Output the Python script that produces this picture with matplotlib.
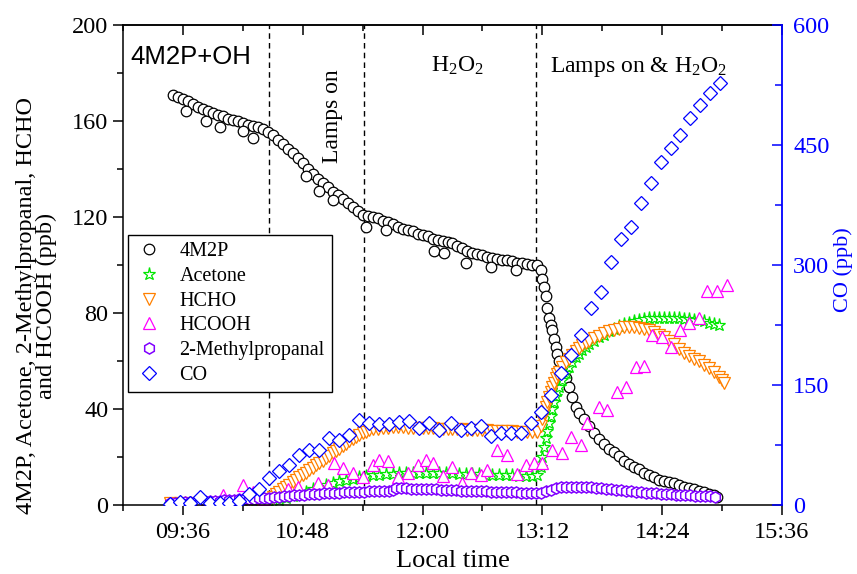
import matplotlib
matplotlib.use("Agg")
import matplotlib.pyplot as plt
from matplotlib.ticker import MultipleLocator

plt.rcParams['font.family'] = ['Liberation Serif', 'DejaVu Serif']
plt.rcParams['mathtext.default'] = 'regular'
plt.rcParams['axes.linewidth'] = 1.1

# ---------------- data (minutes after 09:00, ppb) ----------------
START = "09:00"
END = "15:36"
xtick_labels = ["09:36", "10:48", "12:00", "13:12", "14:24", "15:36"]
event_times = ["10:28", "11:25", "13:08"]

m2p_t = [30, 33, 36, 39, 42, 45, 48, 51, 54, 57, 60, 63, 66, 69, 72, 75, 78, 81, 84, 87,
         90, 93, 96, 99, 102, 105, 108, 111, 114, 117, 120, 123, 126, 129, 132, 135, 138, 141, 144, 147,
         150, 153, 156, 159, 162, 165, 168, 171, 174, 177, 180, 183, 186, 189, 192, 195, 198, 201, 204, 207,
         210, 213, 216, 219, 222, 225, 228, 231, 234, 237, 240, 243, 246, 249, 251, 252, 253, 254, 255, 256,
         257, 258, 259, 260, 261, 262, 264, 266, 268, 270, 272, 274, 277, 280, 283, 286, 289, 292, 295, 298,
         301, 304, 307, 310, 313, 316, 319, 322, 325, 328, 331, 334, 337, 340, 343, 346, 349, 352, 355, 357,
         38, 50, 58, 72, 78, 110, 118, 126, 146, 158, 187, 193, 206, 221, 236]
m2p_v = [171, 170, 169, 168.5, 167, 166, 165, 164, 163.5, 162.5, 162, 161, 160.5, 160, 159, 158.5, 158, 157.5, 156.5, 155.5,
         154, 152, 150.5, 148.5, 146.5, 144.5, 142.5, 140, 138, 136, 134, 132.5, 130.5, 129, 127.5, 126, 124, 122.5, 121, 120.5,
         120, 119.5, 118.5, 118, 117, 116, 115, 114.5, 114, 113, 112.5, 112, 111, 110.5, 110, 109.5, 109, 108, 107, 106,
         105, 104.5, 104, 103.5, 103, 102.5, 102, 102, 101.5, 101, 101, 100.5, 100, 100, 98, 94, 91, 87, 82, 78,
         75, 73, 69, 66, 63, 60, 56, 53, 49, 45, 41, 38.5, 36, 33, 30, 27.5, 25.5, 23.5, 22, 20.5,
         18.5, 17, 16, 15, 13.5, 12.5, 11.5, 10.5, 10, 9.5, 9, 8.2, 7.6, 7, 6.5, 6, 5.3, 4.7, 4, 3.5,
         164, 160, 157.5, 156, 153, 137, 131, 127, 116, 114.5, 106, 105, 101, 99, 98]

acet_t = [28, 34, 40, 46, 52, 58, 64, 70, 76, 82, 88, 94, 98, 102, 106, 110, 114, 118, 122, 126,
          130, 134, 138, 142, 146, 150, 154, 158, 162, 166, 170, 174, 178, 182, 186, 190, 194, 198, 202, 206,
          210, 214, 218, 222, 226, 230, 234, 238, 242, 246, 249, 251, 252, 253, 254, 255, 256, 257, 258, 259,
          260, 261, 262, 264, 266, 268, 270, 272, 274, 276, 278, 280, 283, 286, 289, 292, 295, 298, 301, 304,
          307, 310, 313, 316, 319, 322, 325, 328, 331, 334, 337, 340, 343, 346, 349, 352, 355, 358]
acet_v = [0.5, 0.6, 0.8, 0.8, 1, 1, 1.2, 1.3, 1.5, 1.6, 1.8, 2.2, 3, 3.8, 4.5, 5.5, 6.5, 7.5, 8.3, 9,
          9.8, 10.4, 11, 11.5, 12, 12.3, 12.6, 12.8, 13, 13.2, 13.3, 13.4, 13.5, 13.5, 13.4, 13.4, 13.3, 13.2, 13.1, 13,
          12.9, 12.8, 12.7, 12.6, 12.5, 12.4, 12.3, 12.2, 12.1, 12, 12.5, 16, 20, 24, 28, 31, 34, 37, 40, 43,
          45.5, 47.5, 49, 52, 55, 57.5, 59.5, 61.5, 63, 64.5, 66, 67, 68.5, 70, 71, 72.5, 73.5, 74.5, 75.5, 76,
          76.5, 77, 77.5, 78, 78, 78, 78, 78, 78, 78, 77.5, 77.5, 77, 77, 76.5, 76, 75.5, 75]

hcho_t = [28, 34, 40, 46, 52, 58, 64, 70, 76, 82, 86, 88, 90, 92, 94, 96, 98, 100, 102, 104,
          106, 108, 110, 112, 114, 116, 118, 120, 122, 124, 126, 128, 130, 132, 134, 136, 138, 140, 142, 144,
          146, 148, 150, 153, 156, 159, 162, 165, 168, 171, 174, 177, 180, 183, 186, 189, 192, 195, 198, 201,
          204, 207, 210, 213, 216, 219, 222, 225, 228, 231, 234, 237, 240, 243, 246, 249, 251, 252, 253, 254,
          255, 256, 257, 258, 259, 260, 261, 262, 264, 266, 268, 270, 272, 274, 276, 278, 280, 283, 286, 289,
          292, 295, 298, 301, 304, 307, 310, 313, 316, 319, 322, 325, 328, 331, 334, 337, 340, 343, 346, 349,
          352, 355, 358, 360, 361]
hcho_v = [1, 1, 1, 1, 1, 1, 1, 1, 1, 1, 1.5, 2.5, 3.5, 4.5, 5.5, 6.5, 7.5, 8.5, 9.5, 10.5,
          11.5, 12.5, 13.5, 14.5, 15.5, 16.5, 17.5, 18.5, 19.5, 20.5, 21.5, 22.5, 23.5, 24.5, 25.5, 26.5, 27.5, 28.5, 29.3, 30,
          30.6, 31.1, 31.5, 31.8, 32, 32.2, 32.3, 32.3, 32.3, 32.2, 32.2, 32.1, 32, 32, 31.9, 31.8, 31.8, 31.7, 31.6, 31.5,
          31.5, 31.4, 31.3, 31.3, 31.2, 31.1, 31, 31, 30.9, 30.8, 30.7, 30.6, 30.5, 30.4, 30.4, 30.5, 33, 36, 38.5, 41,
          43, 45, 47, 49, 51, 53, 54.5, 55.5, 57.5, 59.5, 61, 62.5, 64, 65.5, 66.5, 67.5, 68.5, 69.5, 70.5, 71.5,
          72.5, 73, 73.5, 74, 74, 74, 73.7, 73.3, 72.8, 72, 71, 70, 68.5, 67, 65, 63.5, 62, 61, 60, 58.5,
          57, 55.5, 53.5, 52, 51]

hcooh_t = [29, 51, 60, 72, 78, 85, 99, 105, 117, 123, 127, 132, 138, 144, 150, 154, 159, 165, 171, 177,
           182, 186, 192, 198, 204, 209, 215, 219, 225, 231, 237, 242, 247, 252, 258, 264, 269, 275, 279, 286,
           291, 297, 302, 308, 313, 318, 324, 329, 335, 340, 346, 351, 357, 363]
hcooh_v = [1, 1, 4, 8.3, 5.5, 2.5, 6.5, 7.5, 9.3, 8.5, 17.5, 15.5, 13.5, 11.5, 16.5, 18.7, 18.2, 11.5, 13.3, 16.5,
           18.7, 17.5, 12, 16, 9.1, 13.3, 12.5, 14.6, 23, 20.8, 13, 16.7, 17.5, 17.5, 23, 21.6, 28.3, 25, 34, 41,
           39.6, 47, 49, 57.5, 58, 71, 70, 66, 73, 76, 78, 89, 89, 91.6]

mp_t = [28, 31, 34, 37, 40, 43, 46, 49, 52, 55, 58, 61, 64, 67, 70, 73, 76, 79, 82, 85,
        88, 91, 94, 97, 100, 103, 106, 109, 112, 115, 118, 121, 124, 127, 130, 133, 136, 139, 142, 145,
        148, 151, 154, 157, 160, 162, 164, 167, 170, 173, 176, 179, 182, 185, 188, 191, 194, 197, 200, 203,
        206, 209, 212, 215, 218, 221, 224, 227, 230, 233, 236, 239, 242, 245, 248, 251, 254, 257, 260, 263,
        266, 269, 272, 275, 278, 281, 284, 287, 290, 293, 296, 299, 302, 305, 308, 311, 314, 317, 320, 323,
        326, 329, 332, 335, 338, 341, 344, 347, 350, 353, 356]
mp_v = [0.8, 0.9, 1, 1.1, 1.2, 1.3, 1.4, 1.5, 1.6, 1.7, 1.8, 1.9, 2, 2.2, 2.3, 2.5, 2.6, 2.7, 2.8, 3,
        3.1, 3.3, 3.5, 3.6, 3.8, 4, 4.1, 4.3, 4.4, 4.6, 4.7, 4.8, 5, 5.1, 5.2, 5.3, 5.4, 5.5, 5.6, 5.6,
        5.7, 5.7, 5.8, 5.8, 5.9, 6.3, 7, 7, 6.9, 6.8, 6.8, 6.7, 6.6, 6.5, 6.5, 6.4, 6.3, 6.2, 6.1, 6,
        6, 5.9, 5.8, 5.7, 5.7, 5.6, 5.5, 5.5, 5.4, 5.3, 5.3, 5.2, 5.1, 5.1, 5, 5.2, 5.8, 6.4, 7, 7.4,
        7.6, 7.7, 7.7, 7.6, 7.5, 7.3, 7.1, 6.9, 6.7, 6.5, 6.3, 6.1, 5.9, 5.7, 5.5, 5.3, 5.2, 5, 4.9, 4.7,
        4.6, 4.5, 4.3, 4.2, 4.1, 4, 3.9, 3.8, 3.7, 3.6, 3.5]

co_t = [28, 34, 40, 46, 52, 58, 64, 70, 76, 82, 88, 94, 100, 106, 112, 118, 124, 130, 136, 142,
        148, 154, 160, 166, 172, 178, 184, 190, 197, 203, 209, 215, 221, 227, 233, 239, 245, 251, 257, 263,
        269, 275, 281, 287, 293, 299, 305, 311, 317, 323, 329, 335, 341, 347, 353, 359]
co_v = [1, 4, 2, 10, 2.5, 3, 2.5, 5, 14, 20, 34, 42, 50, 62, 69, 69, 84, 81, 88, 106,
        102, 101, 101, 104, 105, 96, 102, 94, 102, 94, 96, 99, 86, 90, 90, 90, 102, 116, 137, 165,
        187, 212, 246, 266, 304, 333, 348, 377, 402, 429, 446, 462, 484, 500, 515, 527]


def hm(s):
    h, m = s.split(":")
    return int(h) + int(m) / 60.0


def tx(mins):
    return [hm(START) + m / 60.0 for m in mins]


# ---------------- figure ----------------
fig = plt.figure(figsize=(8.57, 5.74), dpi=100)
ax = fig.add_axes([0.1435, 0.1202, 0.769, 0.8362])
ax2 = ax.twinx()

mew = 0.9
ax.plot(tx(m2p_t), m2p_v, ls='none', marker='o', ms=7.6, mfc='white', mec='black', mew=mew, label='4M2P')
ax.plot(tx(acet_t), acet_v, ls='none', marker='*', ms=9.5, mfc='white', mec='#00e600', mew=mew, label='Acetone')
ax.plot(tx(hcho_t), hcho_v, ls='none', marker='v', ms=9, mfc='white', mec='#ff8000', mew=mew, label='HCHO')
ax.plot(tx(hcooh_t), hcooh_v, ls='none', marker='^', ms=9, mfc='white', mec='#ff00ff', mew=mew, label='HCOOH')
ax.plot(tx(mp_t), mp_v, ls='none', marker='h', ms=8, mfc='white', mec='#8000ff', mew=1.1, label='2-Methylpropanal')
ax2.plot(tx(co_t), co_v, ls='none', marker='D', ms=6.8, mfc='white', mec='#0000ff', mew=mew, label='CO')

for e in event_times:
    ax.axvline(hm(e), color='black', lw=1.0, ls=(0, (4, 3)), zorder=0.5)

# axes limits / ticks
ax.set_xlim(hm(START), hm(END))
xt = [hm(s) for s in xtick_labels]
ax.set_xticks(xt)
ax.set_xticklabels(xtick_labels)
ax.xaxis.set_minor_locator(MultipleLocator(0.6))
ax.set_ylim(0, 200)
ax.yaxis.set_major_locator(MultipleLocator(40))
ax.yaxis.set_minor_locator(MultipleLocator(20))
ax.tick_params(axis='both', which='major', direction='out', length=7, width=1.1, labelsize=17.5)
ax.tick_params(axis='both', which='minor', direction='out', length=4, width=1.1)
ax.tick_params(axis='x', pad=5)
ax.spines['right'].set_visible(False)

sec = ax.secondary_xaxis('top')
sec.set_xticks(xt)
sec.xaxis.set_minor_locator(MultipleLocator(0.6))
sec.tick_params(which='major', direction='in', length=7, width=1.1, labeltop=False)
sec.tick_params(which='minor', direction='in', length=4, width=1.1)

ax2.set_ylim(0, 600)
ax2.yaxis.set_major_locator(MultipleLocator(150))
ax2.yaxis.set_minor_locator(MultipleLocator(75))
ax2.tick_params(axis='y', which='major', direction='in', length=7, width=1.1, colors='blue', labelsize=17.5, pad=8)
ax2.tick_params(axis='y', which='minor', direction='in', length=5, width=1.1, colors='blue')
for s in ['left', 'top', 'bottom']:
    ax2.spines[s].set_visible(False)
ax2.spines['right'].set_color('blue')
ax2.spines['right'].set_linewidth(1.3)

ax.set_xlabel('Local time', fontsize=19, labelpad=5)
ax.set_ylabel('4M2P, Acetone, 2-Methylpropanal, HCHO\nand HCOOH (ppb)', fontsize=17.5, linespacing=0.95)
ax.yaxis.set_label_coords(-0.1, 0.415)
ax2.set_ylabel('CO (ppb)', fontsize=16, color='blue', rotation=90)
ax2.yaxis.set_label_coords(1.078, 0.49)

# annotations
ax.text(0.011, 0.933, '4M2P+OH', transform=ax.transAxes, fontsize=18.5,
        family=['Liberation Sans', 'DejaVu Sans'], ha='left', va='center')
ax.text(0.318, 0.81, 'Lamps on', transform=ax.transAxes, fontsize=17, rotation=90,
        ha='center', va='center')
ax.text(0.507, 0.902, 'H$_2$O$_2$', transform=ax.transAxes, fontsize=17, ha='center', va='baseline')
ax.text(0.648, 0.902, 'Lamps on & H$_2$O$_2$', transform=ax.transAxes, fontsize=17, ha='left', va='baseline')

# legend
h1, l1 = ax.get_legend_handles_labels()
h2, l2 = ax2.get_legend_handles_labels()
leg = ax2.legend(h1 + h2, l1 + l2, loc='upper left', bbox_to_anchor=(0.0076, 0.5625),
                 bbox_transform=ax.transAxes, borderaxespad=0, fontsize=14.5, frameon=True,
                 fancybox=False, framealpha=1, edgecolor='black', labelspacing=0.28,
                 handletextpad=0.8, handlelength=1.4, borderpad=0.35, numpoints=1)
leg.get_frame().set_linewidth(1.0)

fig.savefig('out.png', dpi=100)
